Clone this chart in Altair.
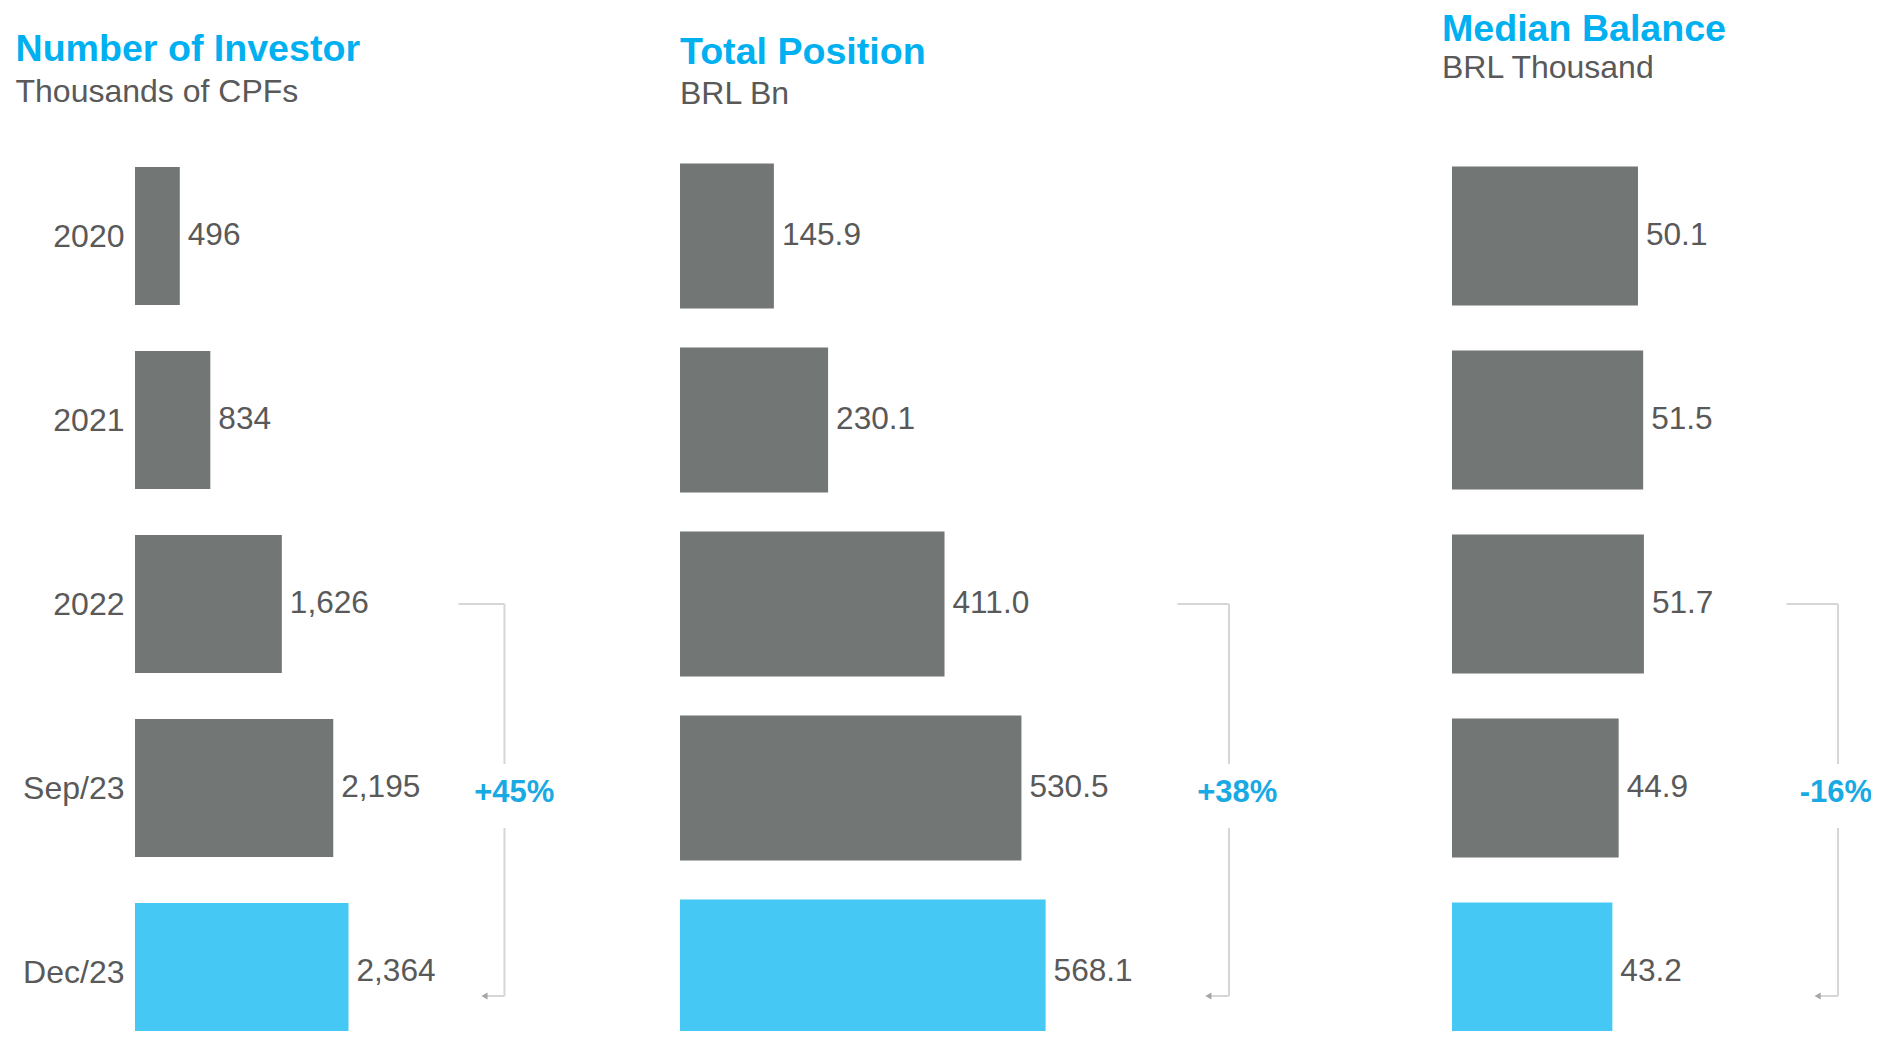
import altair as alt
import pandas as pd

# ---------------- data ----------------
categories = ["2020", "2021", "2022", "Sep/23", "Dec/23"]
investors = [496, 834, 1626, 2195, 2364]
total_position = [145.9, 230.1, 411.0, 530.5, 568.1]
median_balance = [50.1, 51.5, 51.7, 44.9, 43.2]
highlight = "Dec/23"

titles = ["Number of Investor", "Total Position", "Median Balance"]
subtitles = ["Thousands of CPFs", "BRL Bn", "BRL Thousand"]
value_formats = [",.0f", ".1f", ".1f"]

growth_labels = ["+45%", "+38%", "-16%"]
growth_from, growth_mid, growth_to = "2022", "Sep/23", "Dec/23"

# bracket positions, in each panel's own data units
bracket_start = [3581, 773, 90.1]
bracket_line = [4091, 853, 104.0]
bracket_tip = [3870, 821, 98.5]
bracket_text = [4200, 866, 103.4]

x_max = [6029, 1184, 111.8]

# ---------------- style ----------------
FONT = "Liberation Sans"
GREY_TEXT = "#595959"
BAR = "#727776"
HL = "#45C8F4"
TITLE = "#00B0F0"
PCT = "#19A9E3"
BRACKET = "#D6D6D6"
ARROW = "#A6A6A6"

panel_width = [544.5, 762, 415]
bar_height = [138, 145, 139]
title_dx = [-119.5, 0, -10]
title_dy = [4, 10, -19]
sub_pad = [8, 8, 5]


def ycat(field, axis="omit"):
    kw = {}
    if axis != "omit":
        kw["axis"] = axis
    return alt.Y(f"{field}:N", sort=categories,
                 scale=alt.Scale(type="point", padding=0, domain=categories), **kw)


def panel(i, values):
    df = pd.DataFrame({"cat": categories, "value": values})
    df["label"] = [format(v, value_formats[i]) for v in values]
    df["hl"] = [c == highlight for c in categories]

    if i == 0:
        first_axis = alt.Axis(title=None, domain=False, ticks=False, labelFontSize=32,
                              labelFont=FONT, labelColor=GREY_TEXT, labelPadding=11)
        other_axis = "omit"
    else:
        first_axis = None
        other_axis = None
    x = alt.X("value:Q", scale=alt.Scale(domain=[0, x_max[i]], nice=False, zero=True), axis=None)

    bars = alt.Chart(df).mark_bar(height=bar_height[i]).encode(
        x=x, y=ycat("cat", first_axis),
        color=alt.condition("datum.hl", alt.value(HL), alt.value(BAR)),
    )
    labels = alt.Chart(df).mark_text(
        align="left", baseline="middle", dx=8, fontSize=31.6, font=FONT, color=GREY_TEXT
    ).encode(x="value:Q", y=ycat("cat", other_axis), text="label:N")

    bdf = pd.DataFrame({
        "start": [bracket_start[i]], "line": [bracket_line[i]], "tip": [bracket_tip[i]],
        "tx": [bracket_text[i]], "from": [growth_from], "mid": [growth_mid],
        "to": [growth_to], "txt": [growth_labels[i]],
    })
    base = alt.Chart(bdf)
    top = base.mark_rule(color=BRACKET, strokeWidth=2).encode(
        x="start:Q", x2="line:Q", y=ycat("from", other_axis))
    up = base.mark_rule(color=BRACKET, strokeWidth=2, y2Offset=-24).encode(
        x="line:Q", y=ycat("from", other_axis), y2="mid:N")
    down = base.mark_rule(color=BRACKET, strokeWidth=2, yOffset=40, y2Offset=24).encode(
        x="line:Q", y=ycat("mid", other_axis), y2="to:N")
    bottom = base.mark_rule(color=BRACKET, strokeWidth=2, yOffset=24).encode(
        x="tip:Q", x2="line:Q", y=ycat("to", other_axis))
    arrow = base.mark_point(shape="triangle-left", filled=True, size=50, color=ARROW,
                            opacity=1, yOffset=24).encode(x="tip:Q", y=ycat("to", other_axis))
    pct = base.mark_text(fontSize=31, font=FONT, fontWeight="bold", color=PCT,
                         baseline="middle", dy=5).encode(
        x="tx:Q", y=ycat("mid", other_axis), text="txt:N")

    return alt.layer(bars, labels, top, up, down, bottom, arrow, pct).properties(
        width=panel_width[i], height=736,
        title=alt.TitleParams(
            text=titles[i], subtitle=subtitles[i], anchor="start", frame="group",
            font=FONT, fontSize=37.6, fontWeight="bold", color=TITLE,
            subtitleFont=FONT, subtitleFontSize=32, subtitleColor=GREY_TEXT,
            subtitlePadding=sub_pad[i], offset=63, dx=title_dx[i], dy=title_dy[i],
        ),
    )


chart = alt.hconcat(
    panel(0, investors), panel(1, total_position), panel(2, median_balance), spacing=0
).properties(
    padding={"left": 7, "top": 2, "right": -2, "bottom": -14}
).configure_view(stroke=None)

chart.save("out.html", embed_options={"renderer": "svg", "actions": False})
